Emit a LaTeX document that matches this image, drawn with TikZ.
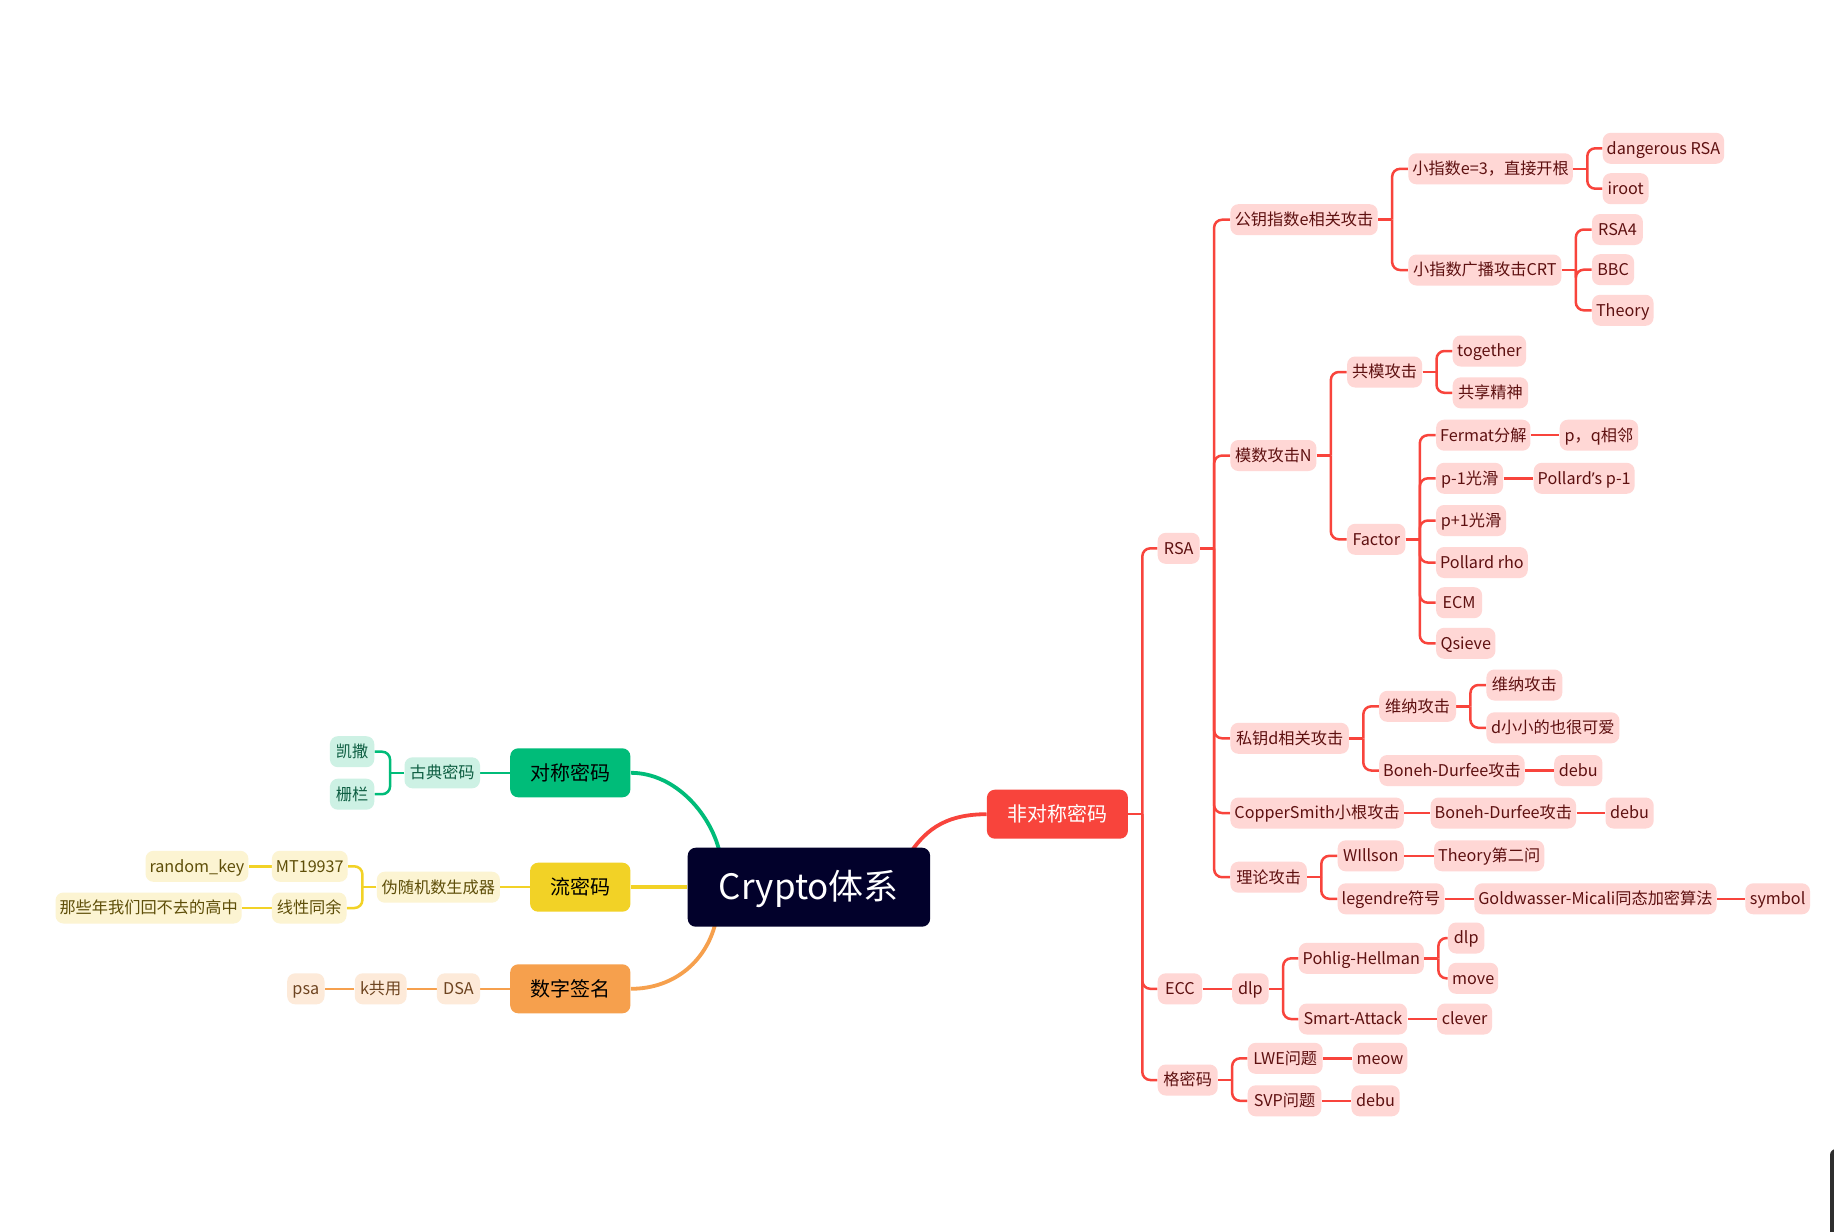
\documentclass[tikz,border=0pt]{standalone}
\usepackage{fontspec}
\setmainfont{Noto Sans CJK SC}
\newfontfamily\apfont{Noto Sans}
\usetikzlibrary{calc}
\pgfdeclarelayer{bg}
\pgfsetlayers{bg,main}
\definecolor{navy}{HTML}{02012B}
\definecolor{gM}{HTML}{00BC79}
\definecolor{gL}{HTML}{CDF1E4}
\definecolor{gT}{HTML}{0E5E42}
\definecolor{yM}{HTML}{F2D226}
\definecolor{yL}{HTML}{FCF4D2}
\definecolor{yT}{HTML}{5E4E08}
\definecolor{oM}{HTML}{F6A04D}
\definecolor{oL}{HTML}{FDEAD9}
\definecolor{oT}{HTML}{6E4420}
\definecolor{rM}{HTML}{F8443C}
\definecolor{rL}{HTML}{FFD7D5}
\definecolor{rT}{HTML}{5E1010}
\tikzset{
  base/.style={rounded corners=4pt, inner xsep=2pt, inner ysep=0pt, minimum height=15.5pt,
    text height=6.8pt, text depth=1pt, font=\fontsize{8.1}{10}\selectfont},
  pk/.style={base, fill=rL, text=rT},
  gn/.style={base, fill=gL, text=gT},
  yl/.style={base, fill=yL, text=yT},
  og/.style={base, fill=oL, text=oT},
  mainbox/.style={rounded corners=4pt, inner sep=0pt, minimum height=24.5pt,
    text height=8.5pt, text depth=1pt, font=\fontsize{10}{12}\selectfont},
  rootbox/.style={rounded corners=4pt, inner sep=0pt, minimum height=39.5pt, fill=navy, text=white,
    text height=14pt, text depth=2pt, font=\fontsize{17.5}{20}\selectfont},
  rl/.style={draw=rM, line width=1.25pt},
  gl/.style={draw=gM, line width=1.25pt},
  yw/.style={draw=yM, line width=1.25pt},
  ow/.style={draw=oM, line width=1.25pt},
  bigline/.style={line width=1.9pt},
}
\newcommand\bx[6]{\node[#1,anchor=west,minimum width={(#4-#3)*0.5pt}] (#2) at (#3,#5) {#6};}
\newcommand\brr[3]{\draw[#1] (#2.east) -- ++(7pt,0);
  \draw[#1,rounded corners=4pt] ($(#2.east)+(7pt,0)$) |- (#3.west);}
\newcommand\brl[3]{\draw[#1] (#2.west) -- ++(-7pt,0);
  \draw[#1,rounded corners=4pt] ($(#2.west)+(-7pt,0)$) |- (#3.east);}
\newcommand\lnr[3]{\draw[#1] (#2.east) -- (#3.west);}
\newcommand\lnl[3]{\draw[#1] (#2.west) -- (#3.east);}
\begin{document}
\begin{tikzpicture}[x=0.5pt,y=-0.5pt]
\useasboundingbox (0,0) rectangle (1834,1231);
\begin{pgfonlayer}{bg}
\fill[white] (0,0) rectangle (1834,1231);
\end{pgfonlayer}
% ---------- main nodes
\bx{rootbox}{root}{687.3}{929.7}{887.2}{Crypto体系}
\bx{mainbox,fill=gM,text=black}{sym}{509.8}{630}{772.8}{对称密码}
\bx{mainbox,fill=yM,text=black}{lmm}{529.7}{630}{887.2}{流密码}
\bx{mainbox,fill=oM,text=black}{szqm}{509.8}{630}{988.8}{数字签名}
\bx{mainbox,fill=rM,text=white}{asym}{986.5}{1127.5}{814.2}{非对称密码}
% ---------- left: symmetric
\bx{gn}{gs}{329.5}{373.9}{751.7}{凯撒}
\bx{gn}{zl}{329.5}{373.9}{794.2}{栅栏}
\bx{gn}{gd}{404.1}{479.6}{772.8}{古典密码}
% ---------- left: stream
\bx{yl}{rk}{145.1}{240.4}{866.3}{random\_key}
\bx{yl}{mt}{271.5}{346.1}{866.3}{MT19937}
\bx{yl}{ns}{55.1}{240.4}{908}{那些年我们回不去的高中}
\bx{yl}{xx}{271.5}{346.1}{908}{线性同余}
\bx{yl}{wsj}{376.4}{499.5}{887.2}{伪随机数生成器}
% ---------- left: signature
\bx{og}{psa}{286.8}{324.1}{988.8}{psa}
\bx{og}{kgy}{354.4}{406.2}{988.8}{k共用}
\bx{og}{dsa}{436.5}{479.6}{988.8}{DSA}
% ---------- right level 1
\bx{pk}{rsa}{1157.3}{1199.3}{548.3}{RSA}
\bx{pk}{ecc}{1157.3}{1201.7}{988.8}{ECC}
\bx{pk}{gmm}{1157.3}{1217.3}{1080}{格密码}
% ---------- RSA children
\bx{pk}{gy}{1230}{1377.3}{219.7}{公钥指数e相关攻击}
\bx{pk}{ms}{1230}{1316}{455.5}{模数攻击N}
\bx{pk}{sy}{1230}{1348.5}{738.3}{私钥d相关攻击}
\bx{pk}{cs}{1230}{1399.8}{813}{CopperSmith小根攻击}
\bx{pk}{ll}{1230}{1306.5}{877.2}{理论攻击}
% e
\bx{pk}{e3}{1407.9}{1571.7}{168.8}{小指数e=3，直接开根}
\bx{pk}{crt}{1407.9}{1561}{270}{小指数广播攻击CRT}
\bx{pk}{dr}{1602.3}{1721}{148.3}{dangerous RSA}
\bx{pk}{ir}{1602.3}{1648.2}{188.7}{iroot}
\bx{pk}{r4}{1591.6}{1642.5}{229.5}{RSA4}
\bx{pk}{bbc}{1591.6}{1633.7}{269.7}{BBC}
\bx{pk}{th}{1591.6}{1652.8}{310.3}{Theory}
% N
\bx{pk}{gm}{1346.7}{1421.7}{372}{共模攻击}
\bx{pk}{fa}{1346.7}{1405}{539.3}{Factor}
\bx{pk}{tg}{1452.3}{1525.7}{351}{together}
\bx{pk}{gx}{1452.3}{1527.7}{392.8}{共享精神}
\bx{pk}{fe}{1435.7}{1529}{435.2}{Fermat分解}
\bx{pk}{pq}{1559.3}{1637.7}{435.2}{p，q相邻}
\bx{pk}{p1}{1435.7}{1502.7}{478.3}{p-1光滑}
\bx{pk}{pp}{1533.3}{1633.3}{478.3}{Pollard{\apfont ’}s p-1}
\bx{pk}{pp1}{1435.7}{1505.7}{520.5}{p+1光滑}
\bx{pk}{prh}{1435.7}{1525.7}{562.5}{Pollard rho}
\bx{pk}{ecm}{1435.7}{1481.7}{602.7}{ECM}
\bx{pk}{qs}{1435.7}{1495}{643.3}{Qsieve}
% d
\bx{pk}{wn}{1378.8}{1455.6}{706.3}{维纳攻击}
\bx{pk}{bd}{1378.8}{1523.9}{770.5}{Boneh-Durfee攻击}
\bx{pk}{wn2}{1486}{1561.9}{685}{维纳攻击}
\bx{pk}{dx}{1486}{1619}{727.8}{d小小的也很可爱}
\bx{pk}{db1}{1553.8}{1602}{770.5}{debu}
% coppersmith
\bx{pk}{bd2}{1430.2}{1573.9}{813}{Boneh-Durfee攻击}
\bx{pk}{db2}{1605.1}{1653.3}{813}{debu}
% theory
\bx{pk}{wl}{1337.3}{1403.4}{855.8}{WIllson}
\bx{pk}{t2}{1433.7}{1543.1}{855.8}{Theory第二问}
\bx{pk}{lg}{1337.3}{1443.6}{898.8}{legendre符号}
\bx{pk}{gmc}{1473.9}{1713.6}{898.8}{Goldwasser-Micali同态加密算法}
\bx{pk}{sb}{1744.9}{1809.6}{898.8}{symbol}
% ECC
\bx{pk}{dlpa}{1231.7}{1268.3}{988.8}{dlp}
\bx{pk}{ph}{1298.3}{1417.7}{958.3}{Pohlig-Hellman}
\bx{pk}{sa}{1298.3}{1406.7}{1019}{Smart-Attack}
\bx{pk}{dlpb}{1447.7}{1484}{938}{dlp}
\bx{pk}{mv}{1447.7}{1497.7}{978.3}{move}
\bx{pk}{cl}{1436.7}{1491.7}{1019}{clever}
% lattice
\bx{pk}{lwe}{1247.3}{1322.3}{1058.3}{LWE问题}
\bx{pk}{svp}{1247.3}{1321}{1100.8}{SVP问题}
\bx{pk}{meow}{1352.3}{1406.7}{1058.3}{meow}
\bx{pk}{dbc}{1351}{1399.3}{1100.8}{debu}
% ---------- connectors
\begin{pgfonlayer}{bg}
\draw[gl,bigline] (sym.east) .. controls +(45,0) and +(-8,-40) .. ($(root.north west)+(33,8)$);
\draw[yw,bigline] (lmm.east) -- (root.west);
\draw[ow,bigline] (szqm.east) .. controls +(45,0) and +(-8,40) .. ($(root.south west)+(29,-8)$);
\draw[rl,bigline] (asym.west) .. controls +(-45,0) and +(15,-22) .. ($(root.north east)+(-22,8)$);
% symmetric
\lnl{gl}{sym}{gd}
\brl{gl}{gd}{gs}
\brl{gl}{gd}{zl}
% stream
\lnl{yw}{lmm}{wsj}
\brl{yw}{wsj}{mt}
\brl{yw}{wsj}{xx}
\lnl{yw}{mt}{rk}
\lnl{yw}{xx}{ns}
% signature
\lnl{ow}{szqm}{dsa}
\lnl{ow}{dsa}{kgy}
\lnl{ow}{kgy}{psa}
% asymmetric
\brr{rl}{asym}{rsa}
\brr{rl}{asym}{ecc}
\brr{rl}{asym}{gmm}
\brr{rl}{rsa}{gy}
\brr{rl}{rsa}{ms}
\brr{rl}{rsa}{sy}
\brr{rl}{rsa}{cs}
\brr{rl}{rsa}{ll}
\brr{rl}{gy}{e3}
\brr{rl}{gy}{crt}
\brr{rl}{e3}{dr}
\brr{rl}{e3}{ir}
\brr{rl}{crt}{r4}
\brr{rl}{crt}{bbc}
\brr{rl}{crt}{th}
\brr{rl}{ms}{gm}
\brr{rl}{ms}{fa}
\brr{rl}{gm}{tg}
\brr{rl}{gm}{gx}
\brr{rl}{fa}{fe}
\brr{rl}{fa}{p1}
\brr{rl}{fa}{pp1}
\brr{rl}{fa}{prh}
\brr{rl}{fa}{ecm}
\brr{rl}{fa}{qs}
\lnr{rl}{fe}{pq}
\lnr{rl}{p1}{pp}
\brr{rl}{sy}{wn}
\brr{rl}{sy}{bd}
\brr{rl}{wn}{wn2}
\brr{rl}{wn}{dx}
\lnr{rl}{bd}{db1}
\lnr{rl}{cs}{bd2}
\lnr{rl}{bd2}{db2}
\brr{rl}{ll}{wl}
\brr{rl}{ll}{lg}
\lnr{rl}{wl}{t2}
\lnr{rl}{lg}{gmc}
\lnr{rl}{gmc}{sb}
\lnr{rl}{ecc}{dlpa}
\brr{rl}{dlpa}{ph}
\brr{rl}{dlpa}{sa}
\brr{rl}{ph}{dlpb}
\brr{rl}{ph}{mv}
\lnr{rl}{sa}{cl}
\brr{rl}{gmm}{lwe}
\brr{rl}{gmm}{svp}
\lnr{rl}{lwe}{meow}
\lnr{rl}{svp}{dbc}
\end{pgfonlayer}
% corner artefact
\fill[black!82, rounded corners=3pt] (1830,1149) rectangle (1846,1245);
\end{tikzpicture}
\end{document}
